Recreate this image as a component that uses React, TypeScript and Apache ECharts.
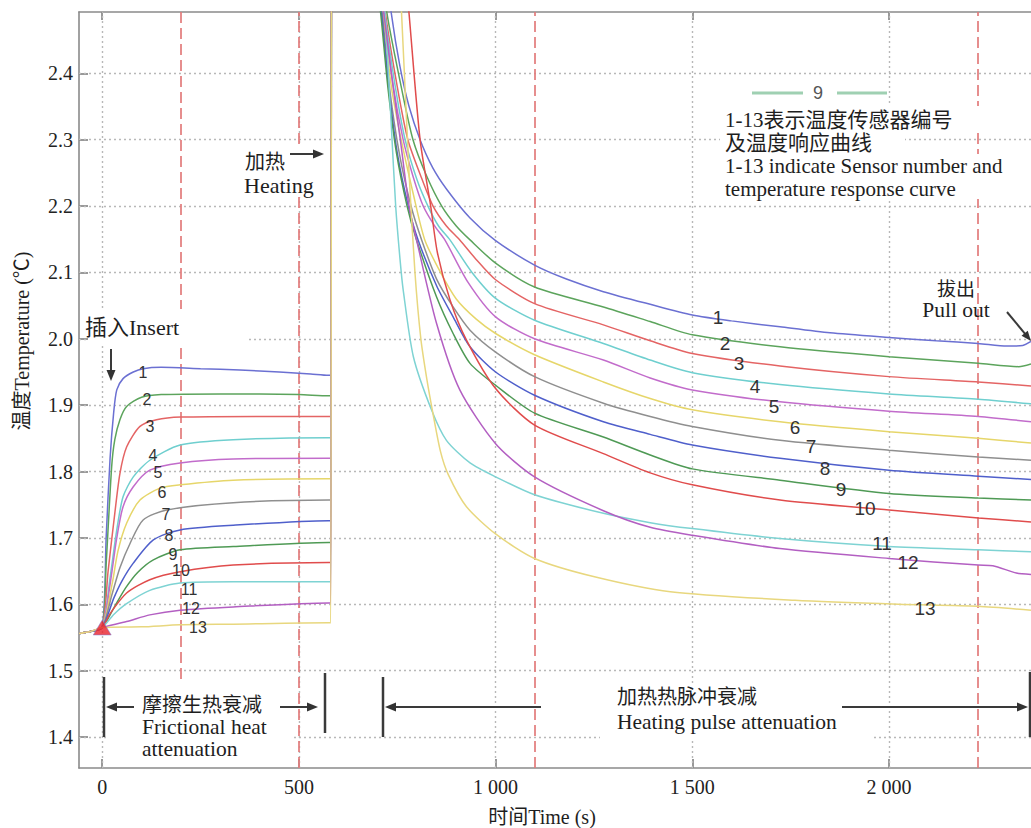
import React, { useEffect, useRef } from 'react';
import * as echarts from 'echarts';

// ---------- axis ranges & ticks ----------
const X_MIN = -59;
const X_MAX = 2361;
const Y_MIN = 1.3533;
const Y_MAX = 2.4924;
const xTicks = [0, 500, 1000, 1500, 2000];
const yTicks = [1.4, 1.5, 1.6, 1.7, 1.8, 1.9, 2.0, 2.1, 2.2, 2.3, 2.4];
const xGridValues = [0, 500, 1000, 1500, 2000];
const redDashedX = [200, 500, 1100, 2225];
const redDashedShortEnd = 1.48; // the 200 s line stops above the bracket

// ---------- data ----------
const sensorNames = ['1', '2', '3', '4', '5', '6', '7', '8', '9', '10', '11', '12', '13'];
const preInsert = [[-59, 1.556], [-30, 1.559], [0, 1.565]];
const insertPoint = [[0, 1.565]];

const s1 = [[10, 1.70], [20, 1.82], [29, 1.888], [37, 1.923], [53, 1.940], [79, 1.950], [104, 1.955], [150, 1.957], [250, 1.955], [350, 1.953], [450, 1.950], [530, 1.947], [575, 1.945], [581, 1.945],
  [584, 3.5], [590, 3.5], [715, 2.59], [735, 2.49], [757, 2.41], [780, 2.35], [808, 2.30], [840, 2.258], [876, 2.225], [935, 2.182], [1000, 2.148], [1099, 2.111], [1180, 2.090], [1274, 2.071], [1393, 2.052], [1500, 2.036], [1600, 2.027], [1723, 2.018], [1850, 2.009], [2000, 2.002], [2120, 1.997], [2227, 1.993], [2300, 1.989], [2340, 1.990], [2361, 1.996]];
const s2 = [[10, 1.66], [24, 1.807], [32, 1.848], [45, 1.878], [62, 1.898], [100, 1.912], [150, 1.916], [300, 1.917], [500, 1.916], [575, 1.914], [581, 1.914],
  [584, 3.5], [590, 3.5], [704, 2.59], [724, 2.49], [760, 2.38], [790, 2.30], [825, 2.245], [863, 2.20], [900, 2.17], [935, 2.149], [1000, 2.114], [1099, 2.078], [1274, 2.048], [1393, 2.026], [1500, 2.006], [1723, 1.988], [2000, 1.973], [2227, 1.963], [2330, 1.958], [2361, 1.962]];
const s3 = [[15, 1.65], [32, 1.737], [45, 1.797], [62, 1.837], [96, 1.868], [138, 1.878], [200, 1.882], [400, 1.883], [575, 1.883], [581, 1.883],
  [584, 3.5], [590, 3.5], [700, 2.59], [720, 2.49], [750, 2.38], [777, 2.30], [810, 2.245], [841, 2.20], [875, 2.17], [909, 2.149], [950, 2.12], [1000, 2.089], [1099, 2.053], [1274, 2.021], [1393, 1.997], [1500, 1.978], [1723, 1.959], [2000, 1.943], [2227, 1.935], [2361, 1.929]];
const s4 = [[20, 1.64], [37, 1.712], [53, 1.762], [79, 1.792], [121, 1.817], [198, 1.840], [333, 1.848], [575, 1.851], [581, 1.851],
  [584, 3.5], [590, 3.5], [698, 2.59], [718, 2.49], [745, 2.38], [770, 2.30], [800, 2.24], [828, 2.20], [855, 2.17], [884, 2.149], [940, 2.10], [1000, 2.061], [1099, 2.028], [1274, 1.993], [1393, 1.968], [1500, 1.949], [1723, 1.931], [2000, 1.917], [2227, 1.909], [2361, 1.902]];
const s5 = [[20, 1.63], [37, 1.70], [53, 1.747], [79, 1.777], [121, 1.802], [198, 1.813], [333, 1.819], [575, 1.820], [581, 1.820],
  [584, 3.5], [590, 3.5], [696, 2.59], [716, 2.49], [740, 2.38], [765, 2.30], [790, 2.245], [816, 2.20], [845, 2.17], [871, 2.149], [930, 2.085], [1000, 2.033], [1099, 2.0], [1274, 1.968], [1393, 1.941], [1500, 1.923], [1723, 1.905], [2000, 1.891], [2227, 1.883], [2361, 1.875]];
const s6 = [[25, 1.63], [40, 1.68], [62, 1.722], [96, 1.757], [147, 1.775], [198, 1.780], [333, 1.787], [575, 1.789], [581, 1.789],
  [584, 3.5], [590, 3.5], [694, 2.59], [714, 2.49], [735, 2.38], [760, 2.30], [790, 2.22], [820, 2.149], [860, 2.10], [900, 2.06], [950, 2.03], [1000, 2.008], [1099, 1.976], [1274, 1.935], [1393, 1.910], [1500, 1.893], [1723, 1.875], [2000, 1.860], [2227, 1.850], [2361, 1.843]];
const s7 = [[25, 1.615], [45, 1.655], [71, 1.692], [104, 1.727], [164, 1.742], [333, 1.753], [575, 1.757], [581, 1.757],
  [584, 3.5], [590, 3.5], [692, 2.59], [712, 2.49], [730, 2.38], [755, 2.28], [785, 2.20], [812, 2.149], [850, 2.09], [892, 2.048], [935, 2.013], [1000, 1.980], [1099, 1.943], [1274, 1.903], [1393, 1.883], [1500, 1.868], [1723, 1.847], [2000, 1.832], [2227, 1.822], [2361, 1.817]];
const s8 = [[30, 1.61], [50, 1.635], [79, 1.662], [130, 1.697], [198, 1.712], [333, 1.719], [575, 1.726], [581, 1.726],
  [584, 3.5], [590, 3.5], [690, 2.59], [710, 2.49], [728, 2.38], [750, 2.28], [778, 2.20], [803, 2.149], [850, 2.08], [892, 2.033], [935, 1.988], [1000, 1.950], [1099, 1.915], [1274, 1.875], [1393, 1.856], [1500, 1.840], [1723, 1.820], [2000, 1.802], [2227, 1.793], [2361, 1.788]];
const s9 = [[30, 1.595], [60, 1.625], [90, 1.648], [130, 1.667], [198, 1.682], [333, 1.687], [575, 1.693], [581, 1.693],
  [584, 3.5], [590, 3.5], [688, 2.59], [708, 2.49], [726, 2.38], [748, 2.28], [775, 2.20], [799, 2.149], [850, 2.063], [892, 2.008], [935, 1.963], [1000, 1.930], [1099, 1.888], [1274, 1.852], [1393, 1.825], [1500, 1.804], [1723, 1.787], [2000, 1.767], [2227, 1.760], [2361, 1.757]];
const s10 = [[20, 1.586], [62, 1.617], [121, 1.637], [198, 1.649], [333, 1.659], [575, 1.663], [581, 1.663],
  [584, 3.5], [590, 3.5], [765, 2.59], [780, 2.49], [808, 2.30], [835, 2.20], [852, 2.13], [884, 2.059], [926, 1.998], [1000, 1.925], [1099, 1.870], [1274, 1.827], [1393, 1.798], [1500, 1.780], [1723, 1.757], [2000, 1.742], [2227, 1.730], [2361, 1.724]];
const s11 = [[30, 1.585], [62, 1.601], [121, 1.621], [198, 1.632], [333, 1.634], [575, 1.634], [581, 1.634],
  [584, 3.5], [590, 3.5], [709, 2.59], [719, 2.49], [735, 2.32], [746, 2.20], [757, 2.12], [765, 2.074], [791, 1.973], [837, 1.893], [875, 1.847], [935, 1.813], [1000, 1.792], [1099, 1.765], [1274, 1.737], [1393, 1.723], [1500, 1.714], [1723, 1.699], [2000, 1.687], [2227, 1.682], [2361, 1.679]];
const s12 = [[62, 1.574], [121, 1.584], [198, 1.591], [333, 1.596], [575, 1.602], [581, 1.602],
  [584, 3.5], [590, 3.5], [696, 2.59], [716, 2.49], [735, 2.40], [760, 2.29], [780, 2.20], [799, 2.149], [850, 2.023], [909, 1.923], [1000, 1.842], [1099, 1.792], [1274, 1.741], [1393, 1.716], [1500, 1.704], [1723, 1.684], [2000, 1.669], [2227, 1.659], [2264, 1.658], [2324, 1.647], [2361, 1.645]];
const s13 = [[100, 1.566], [198, 1.569], [333, 1.570], [575, 1.572], [581, 1.572],
  [584, 3.5], [590, 3.5], [751, 2.59], [761, 2.49], [780, 2.25], [795, 2.10], [810, 2.00], [825, 1.94], [840, 1.89], [860, 1.83], [880, 1.795], [926, 1.747], [1000, 1.706], [1099, 1.669], [1254, 1.641], [1444, 1.619], [1761, 1.606], [2024, 1.600], [2225, 1.597], [2361, 1.591]];

const sensorData = [s1, s2, s3, s4, s5, s6, s7, s8, s9, s10, s11, s12, s13];

// ---------- styles ----------
const curveColors = ['#6b70d2', '#5ca45c', '#e46464', '#6fcfcf', '#c26ccb', '#e6d66a', '#8f8f8f',
  '#4f5fcb', '#4f9a55', '#e04c4c', '#7ed3d3', '#b35fc2', '#e8d77e'];
const SERIF = '"Liberation Serif", "Noto Sans CJK SC", serif';
const SANS = '"Liberation Sans", Arial, sans-serif';

function txt(x: number, y: number, text: string, size: number, family: string, extra: any = {}) {
  return {
    type: 'text', x, y, z: 60, silent: true,
    style: { text, fill: extra.fill || '#1e1e1e', font: `${size}px ${family}`, align: extra.align || 'left', verticalAlign: 'middle' },
    ...(extra.rotation !== undefined ? { rotation: extra.rotation } : {}),
  };
}
function box(x: number, y: number, w: number, h: number) {
  return { type: 'rect', z: 50, silent: true, shape: { x, y, width: w, height: h }, style: { fill: '#ffffff' } };
}
function seg(x1: number, y1: number, x2: number, y2: number, w = 2) {
  return { type: 'line', z: 61, silent: true, shape: { x1, y1, x2, y2 }, style: { stroke: '#3a3a3a', lineWidth: w } };
}
function arrow(x1: number, y1: number, x2: number, y2: number, headLen = 11, headHalf = 4.5) {
  const dx = x2 - x1, dy = y2 - y1;
  const L = Math.sqrt(dx * dx + dy * dy);
  const ux = dx / L, uy = dy / L;
  const bx = x2 - ux * headLen, by = y2 - uy * headLen;
  const px = -uy * headHalf, py = ux * headHalf;
  return [
    seg(x1, y1, bx + ux * 2, by + uy * 2, 2),
    { type: 'polygon', z: 61, silent: true, shape: { points: [[x2, y2], [bx + px, by + py], [bx - px, by - py]] }, style: { fill: '#333333' } },
  ];
}

function buildOption() {
  const frictionLabelPos = [[143, 372], [147, 399], [150, 426], [153, 455], [158, 472], [162, 492], [166, 514], [169, 535], [173, 554], [181, 570], [189, 589], [191, 608], [198, 627]];
  const decayLabelPos = [[718, 317], [725, 343], [739, 363], [755, 386], [774, 406], [795, 427], [811, 446], [825, 468], [841, 489], [865, 508], [882, 543], [908, 562], [925, 608]];

  const curveSeries = sensorData.map((pts, i) => ({
    type: 'line',
    name: sensorNames[i],
    data: [...preInsert, ...pts],
    showSymbol: false,
    symbol: 'none',
    smooth: 0.25,
    clip: true,
    z: 3,
    silent: true,
    lineStyle: { color: curveColors[i], width: 1.5 },
  }));

  const graphics: any[] = [];
  // axis titles
  graphics.push(txt(22, 341, '温度Temperature (℃)', 20, SERIF, { align: 'center', rotation: Math.PI / 2 }));
  graphics.push(txt(542, 817, '时间Time (s)', 20, SERIF, { align: 'center' }));

  // Insert
  graphics.push(box(89, 309, 157, 35));
  graphics.push(txt(85, 327, '插入Insert', 22, SERIF));
  graphics.push(...arrow(111, 349, 111, 381));

  // Heating
  graphics.push(box(242, 146, 74, 51));
  graphics.push(txt(245, 162, '加热', 20, SERIF));
  graphics.push(txt(244, 185, 'Heating', 22, SERIF));
  graphics.push(...arrow(290, 154, 324, 154));

  // sensor labels
  sensorNames.forEach((n, i) => {
    graphics.push(txt(frictionLabelPos[i][0], frictionLabelPos[i][1], n, 16, SANS, { align: 'center', fill: '#333' }));
    graphics.push(txt(decayLabelPos[i][0], decayLabelPos[i][1], n, 19, SANS, { align: 'center', fill: '#333' }));
  });

  // legend-like "— 9 —"
  graphics.push({ type: 'line', z: 61, silent: true, shape: { x1: 752, y1: 93, x2: 803, y2: 93 }, style: { stroke: '#9fd0b2', lineWidth: 3 } });
  graphics.push({ type: 'line', z: 61, silent: true, shape: { x1: 837, y1: 93, x2: 887, y2: 93 }, style: { stroke: '#9fd0b2', lineWidth: 3 } });
  graphics.push(txt(818, 93, '9', 18, SANS, { align: 'center', fill: '#555' }));

  // explanation text
  graphics.push(box(720, 106, 300, 25));
  graphics.push(box(720, 131, 185, 23));
  graphics.push(box(720, 154, 300, 45));
  graphics.push(txt(725, 120, '1-13表示温度传感器编号', 21, SERIF));
  graphics.push(txt(725, 143, '及温度响应曲线', 21, SERIF));
  graphics.push(txt(725, 166, '1-13 indicate Sensor number and', 21, SERIF));
  graphics.push(txt(725, 189, 'temperature response curve', 21, SERIF));

  // Pull out
  graphics.push(txt(956, 289, '拔出', 19, SERIF, { align: 'center' }));
  graphics.push(txt(956, 310, 'Pull out', 21.5, SERIF, { align: 'center' }));
  graphics.push(...arrow(1007, 312, 1031, 341, 10, 4));

  // bottom brackets: frictional
  graphics.push(box(106, 688, 187, 72));
  graphics.push(seg(104, 677, 104, 737, 2.5));
  graphics.push(...arrow(134, 707, 106, 707));
  graphics.push(...arrow(280, 707, 318, 707));
  graphics.push(seg(325, 673, 325, 733, 2.5));
  graphics.push(txt(142, 705, '摩擦生热衰减', 20, SERIF));
  graphics.push(txt(142, 727, 'Frictional heat', 21.5, SERIF));
  graphics.push(txt(142, 749, 'attenuation', 21.5, SERIF));

  // bottom brackets: heating pulse
  graphics.push(box(600, 684, 272, 56));
  graphics.push(seg(383, 677, 383, 737, 2.5));
  graphics.push(...arrow(541, 707, 385, 707));
  graphics.push(...arrow(842, 707, 1028, 707));
  graphics.push(seg(1030, 672, 1030, 737, 2.5));
  graphics.push(txt(617, 697, '加热热脉冲衰减', 20, SERIF));
  graphics.push(txt(617, 722, 'Heating pulse attenuation', 21.5, SERIF));

  const axisLineStyle = { color: '#8a8a8a', width: 1.6 };

  return {
    animation: false,
    backgroundColor: '#ffffff',
    grid: { left: 79, right: 0, top: 12, bottom: 60, containLabel: false, outerBoundsMode: 'none' },
    xAxis: [
      {
        type: 'value', min: X_MIN, max: X_MAX, position: 'bottom',
        axisLine: { show: true, onZero: false, lineStyle: axisLineStyle },
        axisTick: { show: true, inside: true, length: 9, customValues: xTicks, lineStyle: { color: '#777', width: 1.5 } },
        axisLabel: {
          customValues: xTicks, margin: 9, color: '#222', fontSize: 20, fontFamily: SERIF,
          formatter: (v: number) => (v >= 1000 ? `${Math.floor(v / 1000)} ${String(v % 1000).padStart(3, '0')}` : String(v)),
        },
        splitLine: { show: false },
      },
      {
        type: 'value', min: X_MIN, max: X_MAX, position: 'top',
        axisLine: { show: true, onZero: false, lineStyle: axisLineStyle },
        axisTick: { show: true, inside: true, length: 8, customValues: xTicks, lineStyle: { color: '#777', width: 1.5 } },
        axisLabel: { show: false },
        splitLine: { show: false },
      },
    ],
    yAxis: {
      type: 'value', min: Y_MIN, max: Y_MAX,
      axisLine: { show: true, onZero: false, lineStyle: axisLineStyle },
      axisTick: { show: true, inside: true, length: 9, customValues: yTicks, lineStyle: { color: '#777', width: 1.5 } },
      axisLabel: { customValues: yTicks, margin: 6, color: '#222', fontSize: 20, fontFamily: SERIF, formatter: (v: number) => v.toFixed(1) },
      splitLine: { show: false },
    },
    series: [
      {
        type: 'line', data: [], silent: true, z: 1,
        markLine: {
          silent: true, symbol: ['none', 'none'], z: 1, animation: false,
          label: { show: false }, emphasis: { disabled: true },
          lineStyle: { color: '#b8b8b8', type: [2, 3], width: 1.4 },
          data: [...yTicks.map((v) => ({ yAxis: v })), ...xGridValues.map((v) => ({ xAxis: v }))],
        },
      },
      {
        type: 'line', data: [], silent: true, z: 2,
        markLine: {
          silent: true, symbol: ['none', 'none'], z: 2, animation: false,
          label: { show: false }, emphasis: { disabled: true },
          lineStyle: { color: '#e27b7b', type: [11, 5], width: 1.7 },
          data: redDashedX.map((v, i) =>
            i === 0 ? [{ coord: [v, Y_MAX] }, { coord: [v, redDashedShortEnd] }] : { xAxis: v }),
        },
      },
      ...curveSeries,
      {
        type: 'scatter', data: insertPoint, symbol: 'triangle', symbolSize: [18, 15], z: 20, silent: true,
        itemStyle: { color: '#e8222c', borderColor: '#7a7fd8', borderWidth: 0.6 },
      },
    ],
    graphic: { elements: graphics },
  };
}

export default function App() {
  const ref = useRef<HTMLDivElement>(null);
  useEffect(() => {
    if (!ref.current) return;
    const chart = echarts.init(ref.current, undefined, { renderer: 'svg' });
    chart.setOption(buildOption() as any);
    return () => chart.dispose();
  }, []);
  return (
    <div
      ref={ref}
      style={{ position: 'fixed', left: 0, top: 0, width: 1031, height: 828, background: '#fff' }}
    />
  );
}
